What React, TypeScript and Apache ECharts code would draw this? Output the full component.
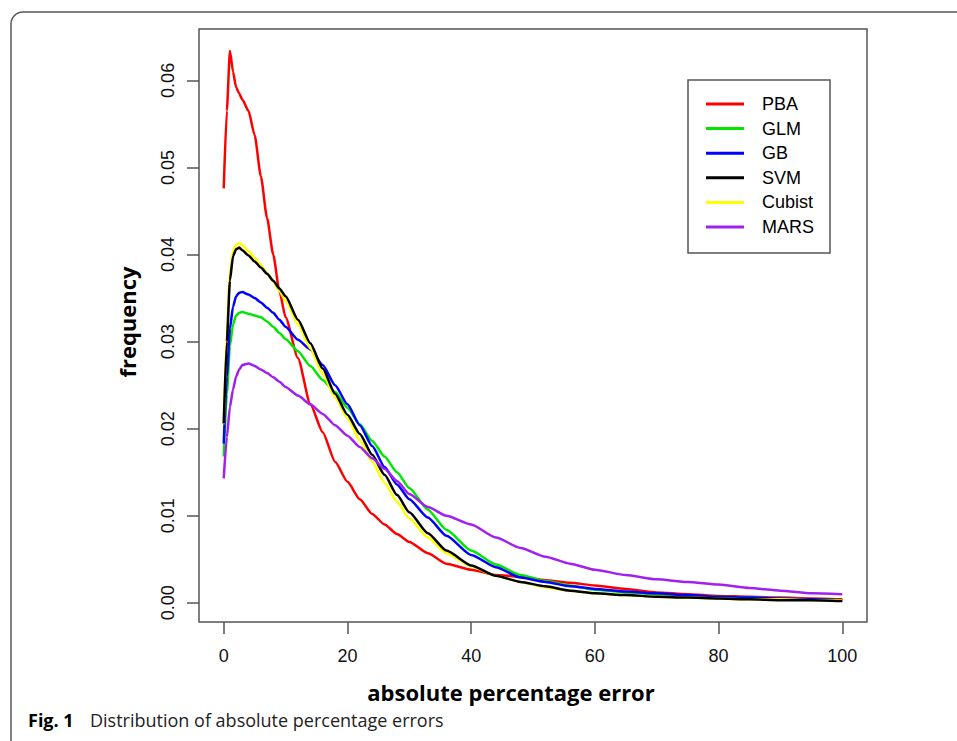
import React, { useEffect, useRef } from "react";
import * as echarts from "echarts";

const xValues = [0, 0.5, 1, 1.5, 2, 2.5, 3, 4, 5, 6, 7, 8, 9, 10, 12, 14, 16, 18, 20, 22, 24, 26, 28, 30, 33, 36, 40, 44, 48, 52, 56, 60, 65, 70, 75, 80, 85, 90, 95, 100];

const pbaValues = [0.0476, 0.0565, 0.0634, 0.061, 0.0592, 0.0585, 0.0578, 0.0565, 0.0537, 0.049, 0.0442, 0.04, 0.0358, 0.0328, 0.0281, 0.0228, 0.0196, 0.0162, 0.0139, 0.0119, 0.0102, 0.009, 0.0079, 0.007, 0.0057, 0.0045, 0.0038, 0.0032, 0.003, 0.0026, 0.0023, 0.002, 0.0016, 0.0012, 0.001, 0.0008, 0.0007, 0.0006, 0.0005, 0.0004];
const glmValues = [0.0168, 0.024, 0.0295, 0.032, 0.033, 0.0333, 0.0334, 0.0332, 0.033, 0.0328, 0.0323, 0.0317, 0.031, 0.0303, 0.0289, 0.0272, 0.0256, 0.0242, 0.0224, 0.0205, 0.0186, 0.0168, 0.015, 0.0132, 0.0107, 0.0084, 0.006, 0.0044, 0.0032, 0.0025, 0.002, 0.0015, 0.0012, 0.001, 0.0008, 0.0007, 0.0006, 0.0005, 0.0004, 0.0003];
const gbValues = [0.0183, 0.026, 0.0315, 0.034, 0.0352, 0.0356, 0.0357, 0.0354, 0.035, 0.0345, 0.0339, 0.0333, 0.0325, 0.0317, 0.0302, 0.0291, 0.0273, 0.025, 0.0228, 0.0204, 0.018, 0.0156, 0.0136, 0.0119, 0.0098, 0.0077, 0.0055, 0.0041, 0.0029, 0.0024, 0.0019, 0.0016, 0.0013, 0.0011, 0.0009, 0.0007, 0.0006, 0.0005, 0.0004, 0.0003];
const svmValues = [0.0206, 0.03, 0.037, 0.0398, 0.0406, 0.0408, 0.0405, 0.0399, 0.0392, 0.0385, 0.0378, 0.037, 0.0361, 0.0352, 0.0325, 0.0298, 0.0269, 0.024, 0.0216, 0.0194, 0.017, 0.0147, 0.0124, 0.0104, 0.008, 0.006, 0.0043, 0.0031, 0.0024, 0.0019, 0.0014, 0.0011, 0.0009, 0.0007, 0.0006, 0.0005, 0.0004, 0.0003, 0.0003, 0.0002];
const cubistValues = [0.0205, 0.031, 0.0378, 0.0404, 0.0411, 0.0413, 0.0411, 0.0404, 0.0396, 0.0388, 0.0379, 0.0369, 0.0358, 0.0347, 0.032, 0.0292, 0.0263, 0.0236, 0.0212, 0.0187, 0.0162, 0.0138, 0.0116, 0.0097, 0.0075, 0.0057, 0.0042, 0.0031, 0.0024, 0.0018, 0.0014, 0.0011, 0.0009, 0.0007, 0.0006, 0.0005, 0.0004, 0.0004, 0.0003, 0.0003];
const marsValues = [0.0143, 0.019, 0.0225, 0.0245, 0.026, 0.0268, 0.0273, 0.0275, 0.0272, 0.0268, 0.0264, 0.0259, 0.0254, 0.0248, 0.0238, 0.0228, 0.0217, 0.0204, 0.0192, 0.0179, 0.0166, 0.0154, 0.014, 0.0125, 0.011, 0.01, 0.009, 0.0075, 0.0063, 0.0053, 0.0045, 0.0038, 0.0032, 0.0027, 0.0024, 0.0021, 0.0017, 0.0014, 0.0011, 0.001];

const seriesNames = ["PBA", "GLM", "GB", "SVM", "Cubist", "MARS"];
const seriesColors = ["#ff0000", "#00e600", "#0000ff", "#000000", "#ffff00", "#a020f0"];
const seriesValues = [pbaValues, glmValues, gbValues, svmValues, cubistValues, marsValues];
const drawOrder = [0, 1, 2, 4, 3, 5];

const xTicks = [0, 20, 40, 60, 80, 100];
const yTicks = [0, 0.01, 0.02, 0.03, 0.04, 0.05, 0.06];

const AXIS_COLOR = "#555555";
const TICK_FONT = "'Liberation Sans', Arial, sans-serif";
const TITLE_FONT = "'Open Sans', 'Noto Sans', sans-serif";

export default function App() {
  const ref = useRef<HTMLDivElement>(null);

  useEffect(() => {
    if (!ref.current) return;
    const chart = echarts.init(ref.current, undefined, { renderer: "svg" });

    const series = drawOrder.map((i) => ({
      name: seriesNames[i],
      type: "line",
      data: xValues.map((x, k) => [x, seriesValues[i][k]]),
      showSymbol: false,
      symbol: "none",
      smooth: 0.2,
      smoothMonotone: "x",
      z: 2 + drawOrder.indexOf(i),
      lineStyle: { color: seriesColors[i], width: 2.5 },
      itemStyle: { color: seriesColors[i] },
    }));

    chart.setOption({
      animation: false,
      backgroundColor: "#ffffff",
      grid: {
        left: 199,
        top: 29,
        width: 668,
        height: 593,
        show: true,
        borderColor: AXIS_COLOR,
        borderWidth: 1.5,
        backgroundColor: "transparent",
      },
      xAxis: {
        type: "value",
        min: -4,
        max: 104,
        axisLine: { show: false, onZero: false },
        splitLine: { show: false },
        axisTick: {
          show: true,
          length: 12,
          customValues: xTicks,
          lineStyle: { color: AXIS_COLOR, width: 1.5 },
        },
        axisLabel: {
          customValues: xTicks,
          margin: 25,
          fontSize: 18,
          fontFamily: TICK_FONT,
          color: "#111111",
          formatter: (v: number) => String(v),
        },
      },
      yAxis: {
        type: "value",
        min: -0.0022,
        max: 0.0659,
        axisLine: { show: false, onZero: false },
        splitLine: { show: false },
        axisTick: {
          show: true,
          length: 12,
          customValues: yTicks,
          lineStyle: { color: AXIS_COLOR, width: 1.5 },
        },
        axisLabel: {
          customValues: yTicks,
          rotate: 90,
          margin: 22,
          fontSize: 18,
          fontFamily: TICK_FONT,
          color: "#111111",
          formatter: (v: number) => v.toFixed(2),
        },
      },
      legend: {
        data: seriesNames,
        orient: "vertical",
        left: 688,
        top: 80,
        padding: [14, 16, 16, 18],
        itemGap: 4.6,
        itemWidth: 38,
        itemHeight: 3,
        icon: "rect",
        borderColor: AXIS_COLOR,
        borderWidth: 1.5,
        backgroundColor: "#ffffff",
        textStyle: {
          fontSize: 18,
          lineHeight: 20,
          fontFamily: TICK_FONT,
          color: "#000000",
          padding: [0, 0, 0, 13],
        },
      },
      series,
      graphic: [
        {
          type: "rect",
          shape: { x: 11, y: 12, width: 980, height: 760, r: [12, 0, 0, 0] },
          style: { fill: "none", stroke: AXIS_COLOR, lineWidth: 1.5 },
          silent: true,
        },
        {
          type: "text",
          x: 511,
          y: 692,
          style: {
            text: "absolute percentage error",
            font: `bold 22px ${TITLE_FONT}`,
            fill: "#000000",
            align: "center",
            verticalAlign: "middle",
          },
        },
        {
          type: "text",
          x: 127,
          y: 322,
          rotation: Math.PI / 2,
          style: {
            text: "frequency",
            font: `bold 22px ${TITLE_FONT}`,
            fill: "#000000",
            align: "center",
            verticalAlign: "middle",
          },
        },
        {
          type: "text",
          x: 28,
          y: 720,
          style: {
            text: "Fig. 1",
            font: `bold 18px ${TITLE_FONT}`,
            fill: "#000000",
            align: "left",
            verticalAlign: "middle",
          },
        },
        {
          type: "text",
          x: 90,
          y: 720,
          style: {
            text: "Distribution of absolute percentage errors",
            font: `18px ${TITLE_FONT}`,
            fill: "#222222",
            align: "left",
            verticalAlign: "middle",
          },
        },
      ],
    });

    return () => chart.dispose();
  }, []);

  return (
    <div
      ref={ref}
      style={{ position: "fixed", left: 0, top: 0, width: 957, height: 741, background: "#ffffff" }}
    />
  );
}
